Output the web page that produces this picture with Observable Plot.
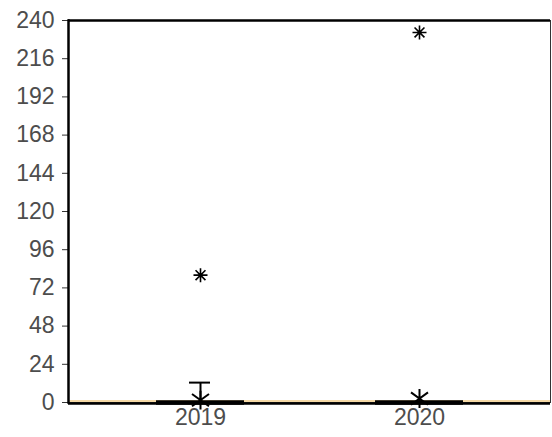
<!DOCTYPE html>
<html>
<head>
<meta charset="utf-8">
<script src="https://cdn.jsdelivr.net/npm/d3@7"></script>
<script src="https://cdn.jsdelivr.net/npm/@observablehq/plot@0.6"></script>
<style>
  html, body { margin: 0; padding: 0; background: #fff; }
  svg { display: block; }
</style>
</head>
<body>
<div id="chart"></div>
<script>
const years = ["2019", "2020"];
const q1 = [0, 0];
const median = [0, 0];
const q3 = [0, 0];
const whiskerHigh = [12.5, 0];
const means = [1.5, 2.5];
const outlierYears = ["2019", "2020"];
const outlierValues = [80, 232.5];
const yTicks = [0, 24, 48, 72, 96, 120, 144, 168, 192, 216, 240];

const boxes = years.map((y, i) => ({year: y, q1: q1[i], median: median[i], q3: q3[i], hi: whiskerHigh[i], mean: means[i]}));
const outliers = outlierYears.map((y, i) => ({year: y, value: outlierValues[i]}));

// 8-arm asterisk for outliers
const star8 = {
  draw(ctx, size) {
    const r = Math.sqrt(size / Math.PI);
    for (let k = 0; k < 4; k++) {
      const a = k * Math.PI / 4;
      const dx = r * Math.cos(a), dy = r * Math.sin(a);
      ctx.moveTo(-dx, -dy); ctx.lineTo(dx, dy);
    }
  }
};
// X with vertical bar for means
const xStar = {
  draw(ctx, size) {
    const r = Math.sqrt(size / Math.PI);
    const a = Math.PI / 5;
    const dx = r * Math.cos(a), dy = r * Math.sin(a);
    ctx.moveTo(-dx, -dy); ctx.lineTo(dx, dy);
    ctx.moveTo(-dx, dy); ctx.lineTo(dx, -dy);
    ctx.moveTo(0, -r * 0.9); ctx.lineTo(0, r * 0.9);
  }
};

const chart = Plot.plot({
  width: 552,
  height: 437,
  marginLeft: 68,
  marginRight: 2,
  marginTop: 20,
  marginBottom: 35,
  style: {fontFamily: "'Liberation Sans', Arial, sans-serif", fontSize: "23px", color: "#4d4d4d", background: "#fff"},
  x: {type: "band", domain: years, paddingInner: 0.6, paddingOuter: 0.4, label: null, tickSize: 0, tickPadding: 6},
  y: {domain: [0, 240], ticks: yTicks, label: null, tickSize: 6, tickPadding: 8},
  marks: [
    Plot.frame({stroke: "#333", strokeWidth: 1}),
    Plot.ruleY([240], {stroke: "#000", strokeWidth: 2.5}),
    Plot.ruleY([0], {stroke: "#f5d9a6", strokeWidth: 2, dy: -1.5}),
    Plot.ruleY([0], {stroke: "#000", strokeWidth: 2.5, dy: 1}),
    Plot.frame({anchor: "left", stroke: "#000", strokeWidth: 2.5}),
    Plot.ruleX(boxes, {x: "year", y1: "q3", y2: "hi", stroke: "#000", strokeWidth: 2}),
    Plot.tickY(boxes, {x: "year", y: "hi", stroke: "#000", strokeWidth: 2, insetLeft: 33, insetRight: 34}),
    Plot.barY(boxes, {x: "year", y1: "q1", y2: "q3", fill: "none", stroke: "#000", strokeWidth: 2}),
    Plot.tickY(boxes, {x: "year", y: "median", stroke: "#000", strokeWidth: 4.5}),
    Plot.dot(boxes, {x: "year", y: "mean", symbol: xStar, r: 10.5, stroke: "#000", strokeWidth: 2, fill: "none"}),
    Plot.dot(outliers, {x: "year", y: "value", symbol: star8, r: 7, stroke: "#000", strokeWidth: 1.6, fill: "none"})
  ]
});
chart.querySelectorAll("[aria-label='y-axis tick'] path, [aria-label='y-axis tick']").forEach(e => e.setAttribute("stroke", "#333"));
document.getElementById("chart").appendChild(chart);
</script>
</body>
</html>
